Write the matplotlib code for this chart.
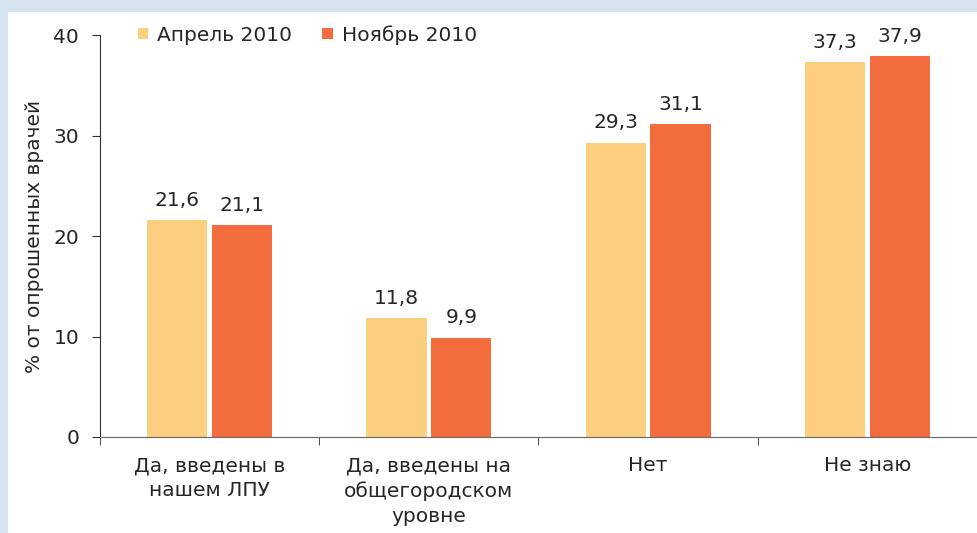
import numpy as np
import matplotlib.pyplot as plt
from matplotlib.patches import Rectangle

plt.rcParams["font.family"] = ["DejaVu Sans"]

categories = ["Да, введены в\nнашем ЛПУ", "Да, введены на\nобщегородском\nуровне", "Нет", "Не знаю"]
april = [21.6, 11.8, 29.3, 37.3]
november = [21.1, 9.9, 31.1, 37.9]
series_names = ["Апрель 2010", "Ноябрь 2010"]

c_apr = "#fbce80"
c_nov = "#f26c3e"
txt = "#262626"
fs = 14.5

fig = plt.figure(figsize=(9.78, 5.33), dpi=100)
fig.patch.set_facecolor("#d6e4f0")
fig.patches.append(Rectangle((8/978, 0), 1, 1 - 12/533, transform=fig.transFigure,
                             facecolor="white", edgecolor="none", zorder=-10))

ax = fig.add_axes([100/978, 1 - 437/533, 877/978, (437 - 35)/533])
ax.set_facecolor("none")

x = np.arange(len(categories))
w = 0.275
b1 = ax.bar(x - 0.148, april, w, color=c_apr, linewidth=0, label=series_names[0])
b2 = ax.bar(x + 0.148, november, w, color=c_nov, linewidth=0, label=series_names[1])

for bars, vals in [(b1, april), (b2, november)]:
    for r, v in zip(bars, vals):
        ax.text(r.get_x() + r.get_width()/2, v + 1.0, f"{v:.1f}".replace(".", ","),
                ha="center", va="bottom", fontsize=fs, color=txt)

ax.set_xlim(-0.5, 3.5)
ax.set_ylim(0, 40)
ax.set_yticks([0, 10, 20, 30, 40])
ax.set_xticks(x)
ax.set_xticklabels(categories, fontsize=fs, color=txt, linespacing=1.4)
ax.set_xticks(np.arange(-0.5, 4, 1), minor=True)
ax.tick_params(axis="x", which="major", length=0, pad=14)
ax.tick_params(axis="x", which="minor", length=6, direction="out", color="#333333")
ax.tick_params(axis="y", length=6, direction="out", labelsize=fs, labelcolor=txt, color="#333333", pad=9)

for s in ["top", "right"]:
    ax.spines[s].set_visible(False)
ax.spines["left"].set_color("#333333")
ax.spines["bottom"].set_color("#666666")

ax.set_ylabel("% от опрошенных врачей", fontsize=fs, color=txt, labelpad=7)

ax.legend(loc="center left", bbox_to_anchor=(0.032, 1.0), ncol=2, frameon=False, borderpad=0,
          fontsize=fs, handlelength=0.5, handleheight=0.5, handletextpad=0.45,
          columnspacing=1.5, labelcolor=txt)

fig.savefig("out.png", dpi=100, facecolor=fig.get_facecolor())
